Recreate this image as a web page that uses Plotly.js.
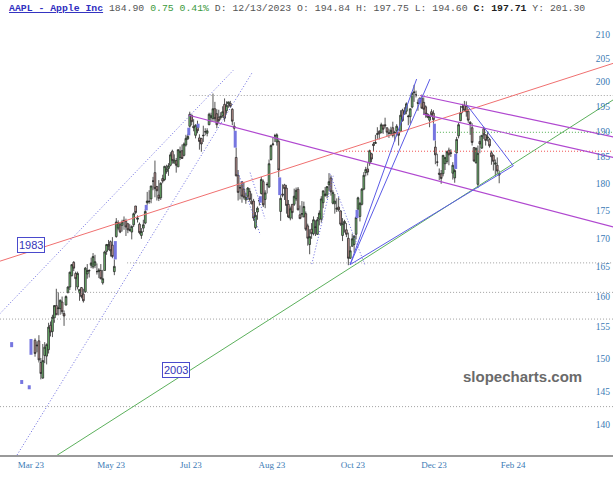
<!DOCTYPE html>
<html><head><meta charset="utf-8">
<script src="https://cdn.plot.ly/plotly-3.0.1.min.js"></script>
<style>html,body{margin:0;padding:0;background:#fff;overflow:hidden}</style>
</head><body><div id="chart" style="width:613px;height:480px"></div>
<script>
// ---- daily candles (trading-day index starts at firstDay; 0 = 1 Mar 2023) ----
const firstDay = 4;
const openP = [
152.9,152.0,152.8,149.4,147.0,150.5,150.4,151.4,155.3,154.3,156.5,158.5,158.0,158.0,159.1,157.2,158.6,160.7,161.6,
163.5,165.8,163.9,161.6,160.6,161.5,160.4,160.8,163.8,164.3,165.3,165.0,165.3,164.2,164.2,164.4,162.3,164.4,167.7,
168.6,169.4,168.8,164.2,170.3,171.8,172.4,172.3,173.2,173.0,172.6,171.4,171.1,172.4,175.8,173.4,172.5,170.5,171.8,172.7,176.4,176.7,
177.1,180.4,182.0,179.4,177.8,177.3,180.9,180.7,182.2,182.8,183.4,186.1,183.8,184.3,183.1,184.9,186.2,185.3,187.3,188.5,191.0,
193.2,191.0,189.2,190.8,188.7,188.6,189.1,189.9,189.6,191.3,192.7,192.5,194.5,193.5,192.8,192.7,193.1,195.4,194.1,195.5,
195.6,194.4,191.0,184.9,181.5,179.1,180.3,178.9,176.9,177.6,178.5,176.7,176.7,171.9,174.7,176.7,178.1,180.3,177.0,179.7,179.3,184.5,187.4,
189.1,187.9,188.0,174.8,178.0,179.7,179.1,176.1,173.6,176.1,176.1,177.1,178.9,174.2,174.3,173.8,174.4,172.2,168.9,171.6,
170.8,171.9,170.7,173.4,173.4,176.4,177.7,177.8,179.7,181.0,176.3,176.2,175.2,175.6,174.9,170.5,172.6,171.5,170.0,166.5,168.6,168.9,
170.7,175.2,173.9,176.1,178.9,182.0,182.7,183.8,185.6,187.5,187.6,189.4,190.0,189.7,191.2,191.3,190.7,189.7,189.6,190.7,189.6,
190.1,189.8,190.0,194.2,193.4,194.0,192.9,192.9,194.84,197.8,197.3,195.8,195.9,196.6,195.8,194.9,193.4,192.2,193.9,193.6,
186.9,184.0,181.9,181.8,181.8,183.7,184.1,186.3,185.8,181.9,181.0,185.8,189.1,192.1,194.8,195.2,195.0,194.0,191.8,190.7,186.8,
183.9,179.8,188.0,186.7,190.5,189.3,188.65,188.4,185.8,185.3,183.6,183.4,181.8];
const highP = [
153.2,152.7,153.7,150.1,152.3,152.6,152.4,155.7,155.9,157.0,158.6,161.3,160.7,159.5,160.0,157.7,160.2,161.7,164.2,
165.5,166.0,164.2,164.2,161.2,161.6,161.3,165.0,165.5,164.6,166.6,167.4,167.1,165.6,164.8,165.5,164.5,167.8,169.0,
169.7,169.6,170.2,166.3,173.6,173.2,172.8,173.3,173.9,173.5,172.6,172.5,172.3,174.6,175.8,174.1,172.8,171.8,173.3,175.2,178.4,178.7,
179.5,181.2,184.3,179.5,180.6,180.2,181.6,183.3,183.5,183.8,185.9,186.4,185.5,184.8,186.4,187.0,187.4,187.8,189.3,189.5,193.9,
193.3,192.4,191.4,192.1,189.4,188.7,191.1,190.6,190.6,193.7,193.7,197.6,195.9,194.4,194.3,193.8,195.0,196.6,196.0,195.9,
196.1,194.6,191.8,186.8,182.5,179.7,180.3,180.2,178.2,179.3,179.1,178.1,177.1,174.7,175.7,177.3,181.2,180.7,178.7,180.2,184.5,187.4,188.7,
189.5,189.6,188.4,177.8,179.8,179.9,179.7,176.9,175.7,176.1,179.0,179.2,179.3,175.9,176.7,176.6,174.8,172.6,171.6,172.7,
173.9,173.2,173.8,175.0,177.6,178.6,179.3,179.4,181.9,181.5,178.7,178.0,177.2,177.4,175.0,173.6,173.3,172.7,171.0,168.6,170.8,170.5,
173.9,177.5,176.5,179.1,182.1,183.1,183.8,186.4,185.8,187.9,189.3,190.8,190.2,191.7,191.3,192.7,190.7,190.5,190.9,191.9,190.1,
191.4,189.8,194.2,194.5,194.8,195.8,193.3,194.5,197.75,199.4,198.2,196.4,196.7,197.4,196.8,195.2,193.6,193.3,194.4,194.2,
188.2,185.6,182.8,182.5,185.4,184.9,186.2,186.8,186.5,184.0,182.7,188.9,191.7,195.1,195.5,196.1,196.0,194.5,192.0,191.6,186.9,
186.8,187.2,189.1,189.2,190.9,189.4,190.0,188.7,186.2,185.5,184.5,184.9,182.4];
const lowP = [
150.3,151.0,149.4,146.8,146.9,149.3,149.1,150.8,153.5,153.4,155.7,157.0,156.9,157.0,157.1,155.2,158.5,160.5,161.1,
163.4,164.3,161.0,161.2,159.3,159.7,159.0,160.6,163.0,163.2,164.8,164.7,164.8,163.7,163.1,162.9,162.0,164.4,167.1,
167.9,166.8,166.5,163.6,170.1,171.4,170.9,171.2,171.5,170.4,170.9,171.2,169.8,172.0,174.3,172.8,170.7,169.9,171.1,172.5,176.0,176.2,
176.3,178.7,177.4,176.8,176.7,176.9,180.0,180.4,181.8,181.4,183.2,183.7,183.8,182.0,183.1,184.4,184.6,185.1,187.0,188.3,190.7,
191.2,190.0,188.6,189.6,186.4,186.0,187.9,189.2,189.0,191.2,191.8,192.0,191.9,190.6,191.6,192.3,192.7,191.9,193.5,194.7,
194.7,191.2,190.1,181.3,176.8,177.0,176.4,177.0,176.2,176.9,176.6,176.1,173.1,171.6,173.3,175.9,177.9,175.6,175.4,178.1,179.1,184.3,187.1,
187.9,187.2,181.1,173.1,177.4,176.9,174.4,173.6,173.2,173.4,175.8,176.7,175.0,173.5,173.7,173.8,171.3,168.7,167.2,169.9,
170.5,170.4,170.6,172.3,172.8,175.4,177.5,177.2,178.6,177.7,176.1,174.4,174.7,174.8,172.2,169.5,171.0,170.2,165.3,166.4,168.5,167.5,
169.8,175.2,173.0,175.9,178.7,181.3,181.5,183.3,184.0,186.1,187.6,188.5,188.4,189.7,189.5,190.6,189.0,188.7,189.2,188.8,188.0,
189.0,187.2,190.0,191.9,193.4,193.4,191.2,191.5,194.60,195.9,196.8,194.1,195.6,194.6,193.3,192.7,192.6,190.8,192.9,191.5,
183.6,183.2,180.6,179.9,181.3,182.5,183.7,183.4,185.0,180.7,180.1,185.6,188.6,192.0,193.6,194.1,192.9,191.7,189.3,187.2,184.1,
183.7,179.1,185.7,186.6,188.5,187.2,188.0,186.8,183.5,182.4,181.4,181.7,180.0];
const closeP = [
150.8,152.1,149.8,147.7,149.7,151.8,152.2,155.0,154.2,156.6,158.5,157.0,158.1,159.4,157.5,156.8,160.0,161.6,164.1,
165.4,164.8,163.0,163.9,161.2,160.0,159.3,164.8,164.4,164.4,165.7,166.8,165.9,164.2,164.5,163.0,163.0,167.6,168.9,
168.9,167.8,166.8,165.1,172.9,172.8,171.1,172.9,173.1,172.0,171.5,171.5,172.1,174.4,174.6,173.6,171.0,171.2,172.4,174.8,176.7,176.6,
179.5,180.4,179.0,178.6,177.2,180.0,180.4,183.2,182.7,183.3,185.4,184.3,184.4,183.4,186.4,186.1,184.7,187.5,188.6,189.0,193.4,
191.9,190.7,191.2,190.1,188.0,187.5,189.2,189.9,190.1,193.4,193.1,194.5,192.5,191.3,192.1,193.0,193.9,192.6,195.2,195.9,
195.0,192.0,190.6,181.4,178.3,179.2,177.6,177.4,177.4,179.1,177.0,176.2,173.6,174.1,175.4,176.8,180.7,176.0,178.2,179.8,183.7,187.2,187.5,
189.1,189.3,182.5,177.2,177.8,179.0,175.9,173.8,175.3,174.6,177.6,178.7,175.1,173.5,174.4,175.7,171.6,170.0,170.3,170.8,
173.3,172.0,173.3,174.5,177.1,178.6,178.0,179.4,180.3,178.4,178.3,176.7,175.4,175.1,172.5,172.6,173.0,170.7,166.5,167.8,169.9,170.4,
173.7,177.3,176.3,178.9,181.5,182.6,182.1,186.2,184.6,187.2,187.8,189.5,189.5,191.3,190.4,191.1,189.8,189.6,190.2,189.2,189.8,
191.0,189.2,193.2,192.1,194.0,195.5,193.0,194.5,197.71,197.9,197.3,195.6,196.7,194.6,194.4,193.4,192.8,192.9,193.3,192.3,
185.4,184.0,181.7,180.9,185.3,184.9,186.0,185.4,185.7,183.4,182.4,188.4,191.3,193.7,194.9,194.2,193.9,192.2,191.5,187.8,184.2,
186.7,185.7,187.5,189.2,189.3,188.2,188.85,187.15,185.04,184.15,183.86,182.31,181.56];

// ---- gap markers (blue) ----
const gapX  = [-8.1, -2.9, 1.0, 1.9, 45.5, 61.5, 83.5, 88.3, 107.5, 120.5, 130.5, 170.5, 203.0, 210.5, 221.5];
const gapLo = [151.8, 146.1, 145.3, 150.6, 166.3, 175.0, 189.2, 190.7, 186.8, 176.4, 177.8, 173.6, 195.6, 188.2, 182.7];
const gapHi = [152.6, 146.7, 145.9, 153.1, 169.5, 176.0, 190.7, 191.5, 190.1, 177.6, 181.1, 175.1, 196.6, 191.5, 185.6];

// ---- trendlines (x = trading-day index, y = price) ----
const redX = [-14.1, 302.9],   redY = [166.0, 203.9];
const greenX = [13.3, 302.9],  greenY = [135.3, 196.3];
const purpleLongX = [83.6, 302.9], purpleLongY = [193.2, 172.0];
const purpleUp1X = [203.0, 302.9], purpleUp1Y = [197.2, 188.9];
const purpleUp2X = [204.6, 302.9], purpleUp2Y = [193.4, 184.9];
const blueAX = [166.9, 201.3], blueAY = [165.4, 200.6];
const blueBX = [166.9, 208.2], blueBY = [165.4, 200.6];
const blueRiseX = [166.9, 251.3], blueRiseY = [165.4, 183.3];
const blueFallX = [227.4, 251.3], blueFallY = [195.2, 183.3];
const chanUpX = [-14.1, 106.4], chanUpY = [157.2, 202.4];
const chanLoX = [-5.3, 116.2],  chanLoY = [135.7, 201.9];
const dotAug1X = [109.0, 120.5], dotAug1Y = [182.0, 170.6];
const dotAug2X = [115.2, 122.9], dotAug2Y = [182.0, 173.5];
const dotSepX = [147.1, 158.2],  dotSepY = [165.5, 181.4];
const dotOctX = [156.5, 174.6],  dotOctY = [181.8, 165.3];
// horizontal levels
const grayLevels = [197.2, 165.7, 160.7, 156.3, 142.7];
const grayStarts = [84.0, 51.6, 15.4, -14.1, -14.1];
const greenLevel = 189.8, greenStart = 211.8;
const redLevel = 186.1, redStart = 161.7;
const xEnd = 302.9;

// ---- axis ticks ----
const xTickPos = [1.9, 43.3, 84.6, 126.5, 168.4, 210.3, 251.2];
const xTickText = ['Mar 23','May 23','Jul 23','Aug 23','Oct 23','Dec 23','Feb 24'];
const yTicks = [140,145,150,155,160,165,170,175,180,185,190,195,200,205,210];

const xIdx = openP.map((_, k) => firstDay + k);

const traces = [];
function line(x, y, color, dash, width) {
  traces.push({type:'scatter', mode:'lines', x:x, y:y, hoverinfo:'skip',
    line:{color:color, dash:dash||'solid', width:width||1}});
}
const fineDot = '1px,2px';
grayLevels.forEach((lv, k) => line([grayStarts[k], xEnd], [lv, lv], '#a0a0a0', fineDot, 1));
line([greenStart, xEnd], [greenLevel, greenLevel], '#4fae4f', fineDot, 1);
line([redStart, xEnd], [redLevel, redLevel], '#f05050', fineDot, 1);
line(redX, redY, '#f07070', 'solid', 1);
line(greenX, greenY, '#5cb05c', 'solid', 1);
line(chanUpX, chanUpY, '#6a6ae0', fineDot, 1);
line(chanLoX, chanLoY, '#6a6ae0', fineDot, 1);
line(dotAug1X, dotAug1Y, '#6a6ae0', fineDot, 1);
line(dotAug2X, dotAug2Y, '#6a6ae0', fineDot, 1);
line(dotSepX, dotSepY, '#6a6ae0', fineDot, 1);
line(dotOctX, dotOctY, '#6a6ae0', fineDot, 1);

// candles
traces.push({type:'candlestick', x:xIdx, open:openP, high:highP, low:lowP, close:closeP,
  hoverinfo:'skip', whiskerwidth:0,
  increasing:{line:{color:'#2a2a2a', width:0.8}, fillcolor:'#72c072'},
  decreasing:{line:{color:'#2a2a2a', width:0.8}, fillcolor:'#c49896'}});

// gaps
const gx = [], gy = [];
gapX.forEach((v, k) => { gx.push(v, v, null); gy.push(gapLo[k], gapHi[k], null); });
traces.push({type:'scatter', mode:'lines', x:gx, y:gy, hoverinfo:'skip',
  line:{color:'#7676e0', width:3}});

line(purpleLongX, purpleLongY, '#b048d0', 'solid', 1.2);
line(purpleUp1X, purpleUp1Y, '#b048d0', 'solid', 1.2);
line(purpleUp2X, purpleUp2Y, '#b048d0', 'solid', 1.2);
line(blueAX, blueAY, '#5a5ae6', 'solid', 1);
line(blueBX, blueBY, '#5a5ae6', 'solid', 1);
line(blueRiseX, blueRiseY, '#5a5ae6', 'solid', 1);
line(blueFallX, blueFallY, '#5a5ae6', 'solid', 1);

const mono = 'Liberation Mono, Courier New, monospace';
const header = '<b><u>AAPL - Apple Inc</u></b>';
const hdrRest = ' <span style="color:#555">184.90</span> <span style="color:#3c9a3c">0.75 0.41%</span>' +
  '<span style="color:#555"> D: 12/13/2023 O: 194.84 H: 197.75 L: 194.60 </span>' +
  '<b><span style="color:#222">C: 197.71</span></b><span style="color:#555"> Y: 201.30</span>';

const layout = {
  width:613, height:480,
  margin:{l:0, r:0, t:22, b:25},
  paper_bgcolor:'#ffffff', plot_bgcolor:'#ffffff',
  showlegend:false, boxgap:0.1, boxgroupgap:0,
  xaxis:{range:[-14.12, 302.85], showgrid:false, zeroline:false, showline:true,
    linecolor:'#999999', linewidth:2, ticks:'', tickvals:xTickPos, ticktext:xTickText,
    tickfont:{family:'Liberation Serif, Times New Roman, serif', size:9, color:'#3a7ab5'},
    rangeslider:{visible:false}, fixedrange:true},
  yaxis:{type:'log', range:[Math.log10(135.7), Math.log10(212.86)], side:'right',
    ticklabelposition:'inside', tickvals:yTicks, ticks:'', showgrid:false, zeroline:false,
    showline:false, tickfont:{family:'Liberation Serif, Times New Roman, serif', size:9.5, color:'#3a7ab5'},
    fixedrange:true},
  annotations:[
    {xref:'paper', yref:'paper', x:7/613, y:1+(22-8)/433, xanchor:'left', yanchor:'middle',
     showarrow:false, text:'<span style="color:#3030c0">'+header+'</span>'+hdrRest,
     font:{family:mono, size:9.8, color:'#555'}},
    {xref:'paper', yref:'paper', x:31/613, y:(455-245)/433, xanchor:'center', yanchor:'middle',
     showarrow:false, text:'1983', font:{family:'Liberation Sans, Arial, sans-serif', size:11, color:'#3434b8'},
     bordercolor:'#4a4acc', borderwidth:1, borderpad:1, bgcolor:'#ffffff'},
    {xref:'paper', yref:'paper', x:176/613, y:(455-370)/433, xanchor:'center', yanchor:'middle',
     showarrow:false, text:'2003', font:{family:'Liberation Sans, Arial, sans-serif', size:11, color:'#3434b8'},
     bordercolor:'#4a4acc', borderwidth:1, borderpad:1, bgcolor:'#ffffff'},
    {xref:'paper', yref:'paper', x:522/613, y:(455-376)/433, xanchor:'center', yanchor:'middle',
     showarrow:false, text:'<b>slopecharts.com</b>', font:{family:'Liberation Sans, Arial, sans-serif', size:15, color:'#6a6a6a'}}
  ]
};
Plotly.newPlot('chart', traces, layout, {staticPlot:true, displayModeBar:false});
</script></body></html>
